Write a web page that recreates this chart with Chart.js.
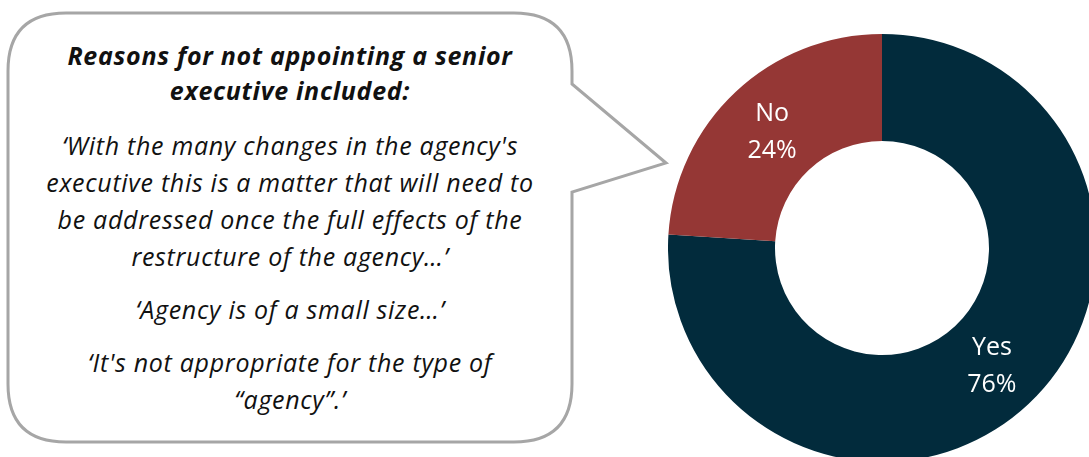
<!DOCTYPE html>
<html>
<head>
<meta charset="utf-8">
<script src="https://cdn.jsdelivr.net/npm/chart.js@4"></script>
<style>
  html, body { margin: 0; padding: 0; background: #fff; overflow: hidden; width: 1089px; height: 457px; }
  #bubble { position: absolute; left: 0; top: 0; }
  #quote {
    position: absolute; left: 8px; top: 38px; width: 564px;
    text-align: center; font-family: "Open Sans", sans-serif; font-style: italic;
    font-size: 25px; letter-spacing: 0.7px; line-height: 37px; color: #111;
  }
  #quote p { margin: 0 0 16px 0; }
  #quote .head { font-weight: bold; line-height: 35px; margin-bottom: 19px; }
  #wrap { position: absolute; left: 668px; top: 34px; width: 428px; height: 428px; }
</style>
</head>
<body>
<svg id="bubble" width="700" height="457">
  <path d="M 66 13 L 514 13 Q 572 13 572 71 L 572 84 L 666 163 L 572 192 L 572 384 Q 572 442 514 442 L 66 442 Q 8 442 8 384 L 8 71 Q 8 13 66 13 Z"
        fill="#fff" stroke="#a6a6a6" stroke-width="3" stroke-linejoin="miter"/>
</svg>
<div id="quote">
  <p class="head">Reasons for not appointing a senior<br>executive included:</p>
  <p>‘With the many changes in the agency's<br>executive this is a matter that will need to<br>be addressed once the full effects of the<br>restructure of the agency…’</p>
  <p>‘Agency is of a small size…’</p>
  <p>‘It's not appropriate for the type of<br>“agency”.’</p>
</div>
<div id="wrap"><canvas id="myChart"></canvas></div>
<script>
'use strict';

const labels = ['Yes', 'No'];
const percents = [76, 24];
const colors = ['#022b3c', '#953735'];

const ctx = document.getElementById('myChart');

// draws "Label" and "NN%" in the middle of each slice
const sliceLabels = {
  id: 'sliceLabels',
  afterDatasetsDraw(chart) {
    const c = chart.ctx;
    const meta = chart.getDatasetMeta(0);
    c.save();
    c.fillStyle = '#ffffff';
    c.font = '25px "Open Sans", sans-serif';
    c.textAlign = 'center';
    c.textBaseline = 'middle';
    meta.data.forEach(function (arc, i) {
      const pos = arc.tooltipPosition();
      c.fillText(labels[i], pos.x, pos.y - 17);
      c.fillText(percents[i] + '%', pos.x, pos.y + 20);
    });
    c.restore();
  }
};

new Chart(ctx, {
  type: 'doughnut',
  data: {
    labels: labels,
    datasets: [{
      data: percents,
      backgroundColor: colors,
      borderWidth: 0
    }]
  },
  options: {
    responsive: true,
    maintainAspectRatio: false,
    animation: false,
    cutout: '50%',
    layout: { padding: 0 },
    plugins: {
      legend: { display: false },
      tooltip: { enabled: false }
    }
  },
  plugins: [sliceLabels]
});
</script>
</body>
</html>
